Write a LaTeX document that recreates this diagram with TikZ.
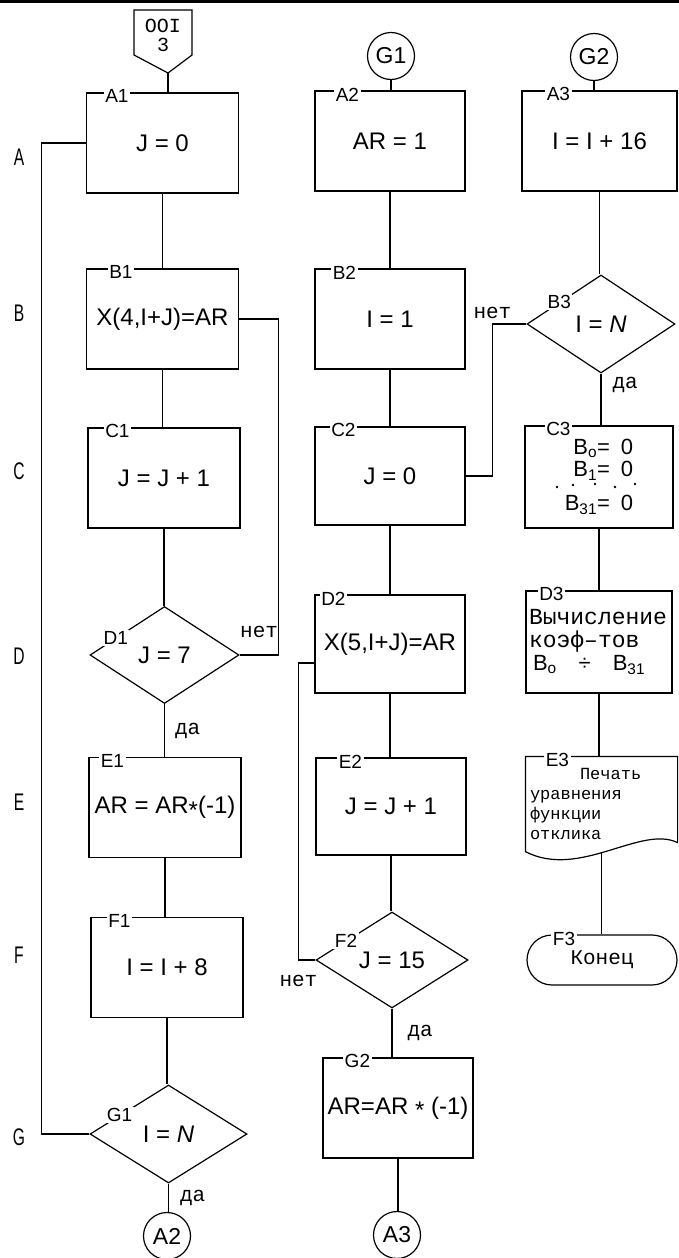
\documentclass[tikz,border=0pt]{standalone}
\usepackage{fontspec}
\setmainfont{Liberation Sans}
\newfontfamily\typer{Liberation Mono}
\newfontfamily\narrowsans[FakeStretch=0.65]{Liberation Sans}
\usetikzlibrary{calc,positioning,shapes.geometric,shapes.misc}

\begin{document}
\begin{tikzpicture}[
  x=1pt, y=-1pt,
  line width=1.2pt,
  every node/.style={inner sep=0pt},
  box/.style={draw, rectangle, minimum width=152, minimum height=100, font=\fontsize{24}{28}\selectfont},
  dec/.style={draw, diamond, font=\fontsize{24}{28}\selectfont},
  conn/.style={draw, circle, minimum size=47, font=\fontsize{23}{26}\selectfont},
  tag/.style={fill=white, inner sep=1.5pt, font=\fontsize{19}{22}\selectfont},
  ans/.style={font=\typer\fontsize{21}{24}\selectfont},
  rowlbl/.style={font=\narrowsans\fontsize{24}{28}\selectfont}
]
\useasboundingbox (0,0) rectangle (679,1258);
\draw[line width=2.5pt] (0,1.5) -- (679,1.5);

\foreach \r/\y in {A/157,B/313,C/471,D/656,E/802,F/955,G/1137}
  \node[rowlbl] (row\r) at (19,\y) {\r};

% column 1
\node[font=\typer\fontsize{20}{19}\selectfont, align=center] (ent) at (163,35) {OOI\\3};
\draw (134,10) -- (192,10) -- (192,55) -- (168,73) coordinate (entTip) -- (134,55) -- cycle;
\node[box] (A1) at (162.5,143) {J = 0};
\node[box] (B1) at (162.5,319) {X(4,I+J)=AR};
\node[box] (C1) at (164,478) {J = J + 1};
\node[dec, minimum width=149, minimum height=97] (D1) at (164.5,655) {J = 7};
\node[box] (E1) at (165,807.5) {AR = AR\raisebox{-0.35ex}{*}(-1)};
\node[box] (F1) at (167,967.5) {I = I + 8};
\node[dec, minimum width=157, minimum height=98] (G1) at (168.5,1134) {I = \textit{N}};
\node[conn] (cA2) at (167,1236) {A2};

% column 2
\node[conn] (cG1) at (391,56) {G1};
\node[box, minimum width=150] (A2) at (390,141) {AR = 1};
\node[box, minimum width=150] (B2) at (390,319) {I = 1};
\node[box, minimum width=150, minimum height=98] (C2) at (390,476) {J = 0};
\node[box, minimum width=150, minimum height=98] (D2) at (390,644) {X(5,I+J)=AR};
\node[box, minimum width=150, minimum height=97] (E2) at (391,806.5) {J = J + 1};
\node[dec, minimum width=152, minimum height=96] (F2) at (392,960) {J = 15};
\node[box, minimum width=150] (G2) at (398,1108) {AR=AR \raisebox{-0.35ex}{*} (-1)};
\node[conn] (cA3) at (397,1235) {A3};

% column 3
\node[conn] (cG2) at (594,57) {G2};
\node[box, minimum width=155] (A3) at (599.5,141) {I = I + 16};
\node[dec, minimum width=148, minimum height=98] (B3) at (601,324) {I = \textit{N}};
\node[box, minimum width=148, minimum height=102, align=right, font=\fontsize{22}{22}\selectfont] (C3) at (599,477)
  {B\textsubscript{o}=\enspace 0\\B\textsubscript{1}=\enspace 0\\[12pt]B\textsubscript{31}=\enspace 0};
\foreach \dx/\dy in {-42/10,-26/8,-4/7,16/10,36/7}
  \fill ($(C3.center)+(\dx,\dy)$) circle (1.4);
\node[box, minimum width=146, minimum height=102, align=left, text width=140, font=\typer\fontsize{23}{23}\selectfont] (D3) at (599,642)
  {Вычисление\\коэф–тов\\{\rmfamily\fontsize{22}{23}\selectfont\hspace*{4pt}B\textsubscript{o}\quad÷\quad B\textsubscript{31}}};
\node[minimum width=151, minimum height=94, align=left, text width=143, font=\typer\fontsize{17}{20}\selectfont] (E3) at (601.5,804)
  {\hspace*{50pt}Печать\\уравнения\\функции\\отклика};
\draw (E3.south west) -- (E3.north west) -- (E3.north east) -- ($(E3.south east)+(0,-9)$)
  .. controls +(-37,-18) and +(54,28) .. (E3.south west) -- cycle;
\node[draw, rounded rectangle, minimum width=150, minimum height=50, ans] (F3) at (602,960) {Конец};

% connectors
\draw (entTip) -- (entTip |- A1.north);
\draw (A1.south) -- (A1.south |- B1.north);
\draw (B1.south) -- (B1.south |- C1.north);
\draw (C1.south) -- (C1.south |- D1.north);
\draw (D1.south) -- node[ans, right=10pt] {да} (D1.south |- E1.north);
\draw (D1.east) -- node[ans, above=17pt] {нет} ++(39,0) |- (B1.east);
\draw (E1.south) -- (E1.south |- F1.north);
\draw (F1.south) -- (F1.south |- G1.north);
\draw (G1.south) -- node[ans, right=11pt] {да} (G1.south |- cA2.north);
\draw (G1.west) -- ++(-48,0) |- (A1.west);

\draw (cG1) -- (cG1 |- A2.north);
\draw (A2.south) -- (A2.south |- B2.north);
\draw (B2.south) -- (B2.south |- C2.north);
\draw (C2.south) -- (C2.south |- D2.north);
\draw (D2.south) -- (D2.south |- E2.north);
\draw (E2.south) -- (E2.south |- F2.north);
\draw (F2.south) -- node[ans, right=15pt] {да} (F2.south |- G2.north);
\draw (F2.west) -- ++(-17,0) node[ans, below=15pt] {нет} |- ([yshift=-19pt]D2.west);
\draw (G2.south) -- (G2.south |- cA3.north);

\draw (cG2) -- (cG2 |- A3.north);
\draw (A3.south) -- (A3.south |- B3.north);
\draw (B3.south) -- node[ans, right=11pt, pos=0.22] {да} (B3.south |- C3.north);
\draw (B3.west) -- ++(-34,0) node[ans, above=5pt] {нет} |- (C2.east);
\draw (C3.south) -- (C3.south |- D3.north);
\draw (D3.south) -- (D3.south |- E3.north);
\draw (E3.south) -- (E3.south |- F3.north);

% block tags
\foreach \n/\dx in {A1/31,B1/35,C1/30,E1/24,F1/29,A2/33,B2/30,C2/29,D2/19,E2/35,G2/35,A3/37,C3/34,D3/26,E3/32}
  \node[tag] at ($(\n.north west)+(\dx,4)$) {\n};
\foreach \n/\t in {D1/0.35,G1/0.38,B3/0.44,F2/0.4}
  \node[tag] at ($(\n.west)!\t!(\n.north)$) {\n};
\node[tag] at ($(F3.north)+(-38,5)$) {F3};
\end{tikzpicture}
\end{document}
